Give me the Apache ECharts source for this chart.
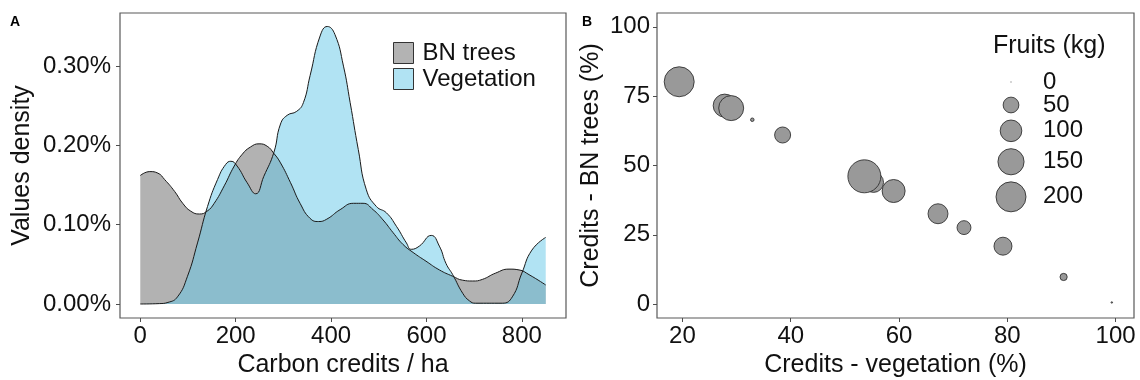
<!DOCTYPE html>
<html>
<head>
<meta charset="utf-8">
<script src="https://cdn.jsdelivr.net/npm/echarts@6.0.0/dist/echarts.min.js"></script>
<style>
  html, body { margin: 0; padding: 0; background: #fff; }
  #chart { width: 1140px; height: 380px; }
</style>
</head>
<body>
<div id="chart"></div>
<script>
// Panel A: density curves, [carbon credits / ha, density in %]
var bnTrees = [
  [0, 0.162], [20, 0.167], [37, 0.165], [51, 0.157], [72, 0.142], [89, 0.127],
  [106, 0.117], [124, 0.1135], [140, 0.117], [155, 0.127], [176, 0.149], [197, 0.174],
  [214, 0.189], [231, 0.198], [249, 0.202], [266, 0.199], [280, 0.190], [294, 0.178],
  [315, 0.153], [335, 0.127], [356, 0.108], [374, 0.104], [391, 0.107], [419, 0.119],
  [447, 0.127], [467, 0.127], [488, 0.119], [509, 0.106], [530, 0.090], [551, 0.075],
  [572, 0.065], [599, 0.054], [627, 0.043], [655, 0.035], [676, 0.030], [697, 0.029],
  [717, 0.031], [745, 0.039], [773, 0.044], [794, 0.043], [815, 0.037], [850, 0.024]
];
var vegetation = [
  [0, 0], [40, 0.0005], [58, 0.002], [78, 0.009], [99, 0.035], [120, 0.077],
  [141, 0.123], [162, 0.157], [179, 0.176], [190, 0.180], [203, 0.174], [224, 0.153],
  [242, 0.139], [259, 0.161], [280, 0.191], [294, 0.227], [308, 0.238], [328, 0.243],
  [342, 0.254], [356, 0.288], [377, 0.338], [392, 0.350], [408, 0.340], [426, 0.300],
  [440, 0.254], [457, 0.195], [474, 0.144], [495, 0.123], [516, 0.115], [537, 0.098],
  [558, 0.077], [568, 0.069], [585, 0.073], [610, 0.0865], [627, 0.073], [641, 0.051],
  [655, 0.037], [676, 0.0135], [690, 0.004], [703, 0.001], [759, 0.001], [780, 0.009],
  [800, 0.039], [821, 0.068], [850, 0.084]
];
var densXTicks = [0, 200, 400, 600, 800];
var densYTicks = [0, 0.1, 0.2, 0.3];

// Panel B: [credits - vegetation %, credits - BN trees %, fruits kg]
var credits = [
  [19.4, 80.2, 200], [27.8, 71.6, 114], [29.0, 70.7, 136], [32.9, 66.5, 1],
  [38.5, 61.0, 52], [55.3, 43.9, 84], [53.6, 46.1, 244], [59.0, 40.8, 114],
  [67.2, 32.6, 84], [72.0, 27.6, 38], [79.2, 20.9, 67], [90.4, 9.8, 8],
  [99.3, 0.6, 0]
];
var creditXTicks = [20, 40, 60, 80, 100];
var creditYTicks = [0, 25, 50, 75, 100];
var fruitKeys = [0, 50, 100, 150, 200];

var FONT = "'Liberation Sans', Arial, sans-serif";
var TXT = '#111';

function fruitSize(v) {
  return 1.5 + 28.5 * Math.sqrt(v / 200);
}

function valueAxis(opt) {
  return Object.assign({
    type: 'value',
    axisLine: { show: false, onZero: false },
    splitLine: { show: false },
    nameLocation: 'middle',
    nameTextStyle: { fontSize: 25, color: TXT, fontFamily: FONT }
  }, opt);
}

function ticks(values) {
  return { show: true, length: 4, inside: false, customValues: values, lineStyle: { color: '#4d4d4d', width: 1 } };
}

// size legend for panel B, laid out from the key values
var sizeLegend = [{
  type: 'text', left: 993, top: 34,
  style: { text: 'Fruits (kg)', fontSize: 25, fontFamily: FONT, fill: TXT }
}];
var keyY = 82;
fruitKeys.forEach(function (v, i) {
  var d = fruitSize(v);
  if (i > 0) {
    var prev = fruitSize(fruitKeys[i - 1]);
    keyY += (Math.max(23, prev + 7) + Math.max(23, d + 7)) / 2;
  }
  sizeLegend.push({
    type: 'circle',
    shape: { cx: 1011, cy: keyY, r: d / 2 },
    style: { fill: '#999999', stroke: '#222', lineWidth: v === 0 ? 0 : 0.8 }
  });
  sizeLegend.push({
    type: 'text', x: 1043, y: keyY,
    style: { text: String(v), fontSize: 24, fontFamily: FONT, fill: TXT, verticalAlign: 'middle' }
  });
});

var myChart = echarts.init(document.getElementById('chart'));
myChart.setOption({
  animation: false,
  backgroundColor: '#fff',
  textStyle: { fontFamily: FONT },
  title: [
    { text: 'A', left: 10, top: 15, padding: 0, textStyle: { fontSize: 14, fontWeight: 'bold', color: '#000', fontFamily: FONT } },
    { text: 'B', left: 582, top: 15, padding: 0, textStyle: { fontSize: 14, fontWeight: 'bold', color: '#000', fontFamily: FONT } }
  ],
  grid: [
    { left: 120, top: 13, width: 446, height: 305, show: true, borderColor: '#595959', borderWidth: 1.2, backgroundColor: '#fff', outerBoundsMode: 'none' },
    { left: 657, top: 13, width: 477, height: 305, show: true, borderColor: '#595959', borderWidth: 1.2, backgroundColor: '#fff', outerBoundsMode: 'none' }
  ],
  legend: {
    orient: 'vertical',
    left: 393,
    top: 41,
    padding: 0,
    itemWidth: 20,
    itemHeight: 21,
    itemGap: 2,
    icon: 'rect',
    selectedMode: false,
    textStyle: { fontSize: 24, color: TXT, fontFamily: FONT, lineHeight: 21, padding: [0, 0, 0, 4] },
    data: [
      { name: 'BN trees', itemStyle: { color: '#b3b3b3', borderColor: '#333', borderWidth: 1 } },
      { name: 'Vegetation', itemStyle: { color: '#b1e3f3', borderColor: '#333', borderWidth: 1 } }
    ]
  },
  xAxis: [
    valueAxis({
      gridIndex: 0, min: -42.5, max: 892.5,
      name: 'Carbon credits / ha', nameGap: 32,
      axisTick: ticks(densXTicks),
      axisLabel: { customValues: densXTicks, fontSize: 24, color: TXT, margin: 6, fontFamily: FONT }
    }),
    valueAxis({
      gridIndex: 1, min: 15.3, max: 103.4,
      name: 'Credits - vegetation (%)', nameGap: 32,
      axisTick: ticks(creditXTicks),
      axisLabel: { customValues: creditXTicks, fontSize: 24, color: TXT, margin: 6, fontFamily: FONT }
    })
  ],
  yAxis: [
    valueAxis({
      gridIndex: 0, min: -0.01765, max: 0.367,
      name: 'Values density', nameGap: 85,
      axisTick: ticks(densYTicks),
      axisLabel: {
        customValues: densYTicks, fontSize: 24, color: TXT, margin: 9, fontFamily: FONT,
        formatter: function (v) { return v.toFixed(2) + '%'; }
      }
    }),
    valueAxis({
      gridIndex: 1, min: -5, max: 105,
      name: 'Credits - BN trees (%)', nameGap: 53,
      axisTick: ticks(creditYTicks),
      axisLabel: { customValues: creditYTicks, fontSize: 24, color: TXT, margin: 7, fontFamily: FONT }
    })
  ],
  series: [
    {
      name: 'BN trees',
      type: 'line',
      xAxisIndex: 0, yAxisIndex: 0,
      data: bnTrees,
      smooth: 0.5,
      showSymbol: false,
      color: '#b3b3b3',
      lineStyle: { color: '#1a1a1a', width: 1 },
      areaStyle: { color: 'rgba(102,102,102,0.5)', opacity: 1 }
    },
    {
      name: 'Vegetation',
      type: 'line',
      xAxisIndex: 0, yAxisIndex: 0,
      data: vegetation,
      smooth: 0.5,
      showSymbol: false,
      color: '#b1e3f3',
      lineStyle: { color: '#1a1a1a', width: 1 },
      areaStyle: { color: 'rgba(99,199,231,0.5)', opacity: 1 }
    },
    {
      name: 'Fruits',
      type: 'scatter',
      xAxisIndex: 1, yAxisIndex: 1,
      data: credits,
      symbol: 'circle',
      symbolSize: function (val) { return fruitSize(val[2]); },
      itemStyle: { color: '#999999', borderColor: '#222', borderWidth: 0.8, opacity: 1 }
    }
  ],
  graphic: sizeLegend
});
</script>
</body>
</html>
